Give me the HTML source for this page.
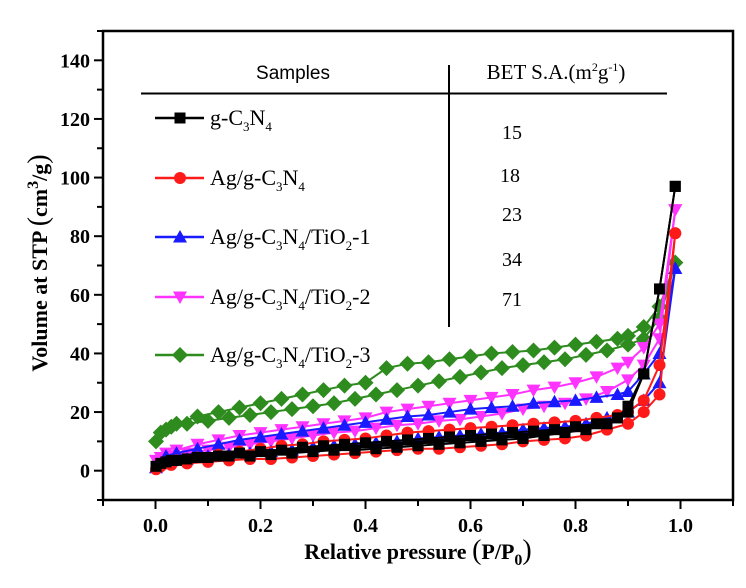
<!DOCTYPE html>
<html><head><meta charset="utf-8"><style>
html,body{margin:0;padding:0;background:#fff;}
svg{display:block;font-family:"Liberation Serif",serif;}
</style></head><body>
<svg id="chart" width="746" height="588" xmlns="http://www.w3.org/2000/svg">
<g id="axes"></g>
<g id="series"></g>
<g id="legend">
  <text x="293" y="79" font-size="19" text-anchor="middle" font-family="Liberation Sans, sans-serif">Samples</text>
  <text x="556" y="79" font-size="21" text-anchor="middle">BET S.A.(m<tspan dy="-8" font-size="12">2</tspan><tspan dy="8">g</tspan><tspan dy="-8" font-size="12">-1</tspan><tspan dy="8">)</tspan></text>
  <line x1="141" y1="93.5" x2="667" y2="93.5" stroke="#000" stroke-width="2"/>
  <line x1="449" y1="65" x2="449" y2="327" stroke="#000" stroke-width="2"/>
  <text x="512" y="139" font-size="20" text-anchor="middle">15</text>
  <text x="510" y="182" font-size="20" text-anchor="middle">18</text>
  <text x="512" y="221" font-size="20" text-anchor="middle">23</text>
  <text x="512" y="266" font-size="20" text-anchor="middle">34</text>
  <text x="512" y="306" font-size="20" text-anchor="middle">71</text>
</g>
</svg>
<script>
const xTicks=[0.0,0.2,0.4,0.6,0.8,1.0];
const xTickLabels=["0.0","0.2","0.4","0.6","0.8","1.0"];
const yTicks=[0,20,40,60,80,100,120,140];
const yTickLabels=["0","20","40","60","80","100","120","140"];
const seriesNames=["g-C3N4","Ag/g-C3N4","Ag/g-C3N4/TiO2-1","Ag/g-C3N4/TiO2-2","Ag/g-C3N4/TiO2-3"];
const adsP=[0.001,0.01,0.03,0.06,0.1,0.14,0.18,0.22,0.26,0.3,0.34,0.38,0.42,0.46,0.5,0.54,0.58,0.62,0.66,0.7,0.74,0.78,0.82,0.86,0.9,0.93,0.96,0.99];
const desP=[0.99,0.96,0.93,0.9,0.88,0.84,0.8,0.76,0.72,0.68,0.64,0.6,0.56,0.52,0.48,0.44,0.4,0.36,0.32,0.28,0.24,0.2,0.16,0.12,0.08,0.04,0.02];
const blackAds=[1.5,2.5,3.5,4,4.5,5,5,5.5,6,6.5,7,7,7.5,8,8.5,9,9.5,10,10.5,11,12,13,14,16,20,33,62,97];
const blackDes=[97,62,33,22,18,16,15,14,13.5,13,12.5,12,11.5,11,10.5,10,9.5,9,8.5,8,7,6.5,6,5,4.5,3.5,3];
const redAds=[0.5,1.5,2,2.5,3,3.5,4,4,4.5,5,5.5,6,6.5,7,7.5,7.5,8,8.5,9,10,10.5,11,12,14,16,20,26,81];
const redDes=[81,36,24,20,19,18,17,16.5,16,15.5,15,14.5,14,13.5,13,12,11,10.5,10,9,8.5,7.5,6.5,5.5,4.5,3.5,2.5];
const blueAds=[1,2.5,3.5,4,5,5.5,6,6.5,7,8,8.5,9,9.5,10,11,11.5,12,12.5,13,14,14.5,15,16,18,20,24,30,69];
const blueDes=[69,40,33,27,26,25,24,23.5,23,22,21.5,21,20,19,18.5,17.5,16.5,15.5,14.5,13.5,12.5,11.5,10.5,9,7.5,6,5];
const magAds=[3.5,4.5,5,6,7,8,9,10,11,12,13,13.5,14.5,15.5,16,17,17.5,18.5,19.5,21,22,23,24.5,27,31,36,45,89];
const magDes=[89,50,42,37,35,32,30,28.5,27.5,26,25,24,23,22,21,20,18,17,16,15,14,13,12,10.5,9,7,6];
const greenAds=[10,13,15,16,17,18,19,20,21,22,23,24.5,26,27.5,29,30.5,32,33.5,35,36,37,38,39.5,41,43,45,52,71];
const greenDes=[71,56,49,46,45,44,43,42,41,40.5,40,39,38,37,36.5,35,30,29,27.5,26,24.5,23,21.5,20,18.5,16,14];

const NS="http://www.w3.org/2000/svg";
const L=103,R=733,T=31,B=500,XMIN=-0.1,XMAX=1.1,YMIN=-10,YMAX=150;
const sx=v=>L+(v-XMIN)/(XMAX-XMIN)*(R-L);
const sy=v=>B-(v-YMIN)/(YMAX-YMIN)*(B-T);
function mk(tag,attrs,parent){const e=document.createElementNS(NS,tag);for(const k in attrs)e.setAttribute(k,attrs[k]);parent.appendChild(e);return e;}
const axes=document.getElementById('axes');
const frame=mk('rect',{x:L,y:T,width:R-L,height:B-T,fill:'none',stroke:'#000','stroke-width':2.5},axes);


for(let v=-0.1;v<=1.101;v+=0.1){
  const major=xTicks.some(t=>Math.abs(t-v)<1e-6);
  const t=mk('line',{x1:sx(v),x2:sx(v),y1:B,y2:B+(major?9:6),stroke:'#000','stroke-width':2},axes);
  
  
}
xTicks.forEach((v,i)=>{
  const t=mk('text',{x:sx(v),y:B+32,'font-size':20,'font-weight':'bold','text-anchor':'middle'},axes);
  t.textContent=xTickLabels[i];
  
  
});
for(let v=-10;v<=150;v+=10){
  const major=yTicks.includes(v);
  const t=mk('line',{x1:L-(major?9:6),x2:L,y1:sy(v),y2:sy(v),stroke:'#000','stroke-width':2},axes);
  
  
}
yTicks.forEach((v,i)=>{
  const t=mk('text',{x:L-13,y:sy(v)+7,'font-size':20,'font-weight':'bold','text-anchor':'end'},axes);
  t.textContent=yTickLabels[i];
  
  
});
const xt=mk('text',{x:418,y:559,'font-size':22,'font-weight':'bold','text-anchor':'middle'},axes);
xt.innerHTML='Relative pressure <tspan font-size="28" font-weight="normal">(</tspan>P/P<tspan dy="6" font-size="16">0</tspan><tspan dy="-6" font-size="28" font-weight="normal">)</tspan>';


const yt=mk('text',{x:0,y:0,'font-size':22,'font-weight':'bold','text-anchor':'middle',transform:'translate(47,263) rotate(-90)'},axes);
yt.innerHTML='Volume at STP <tspan font-size="28" font-weight="normal">(</tspan>cm<tspan dy="-9" font-size="16">3</tspan><tspan dy="9">/g</tspan><tspan font-size="28" font-weight="normal">)</tspan>';



function marker(shape,x,y,color,parent){
  const s=5.5;let e;
  if(shape==='square')e=mk('rect',{x:x-s,y:y-s,width:2*s,height:2*s,fill:color},parent);
  else if(shape==='circle')e=mk('circle',{cx:x,cy:y,r:s+0.5,fill:color},parent);
  else if(shape==='up')e=mk('polygon',{points:`${x},${y-7} ${x-7},${y+5.5} ${x+7},${y+5.5}`,fill:color},parent);
  else if(shape==='down')e=mk('polygon',{points:`${x},${y+7} ${x-7},${y-5.5} ${x+7},${y-5.5}`,fill:color},parent);
  else e=mk('polygon',{points:`${x},${y-8} ${x+8},${y} ${x},${y+8} ${x-8},${y}`,fill:color},parent);
  return e;
}
const sg=document.getElementById('series');
const defs=[
 {name:'green',ads:greenAds,des:greenDes,color:'#2e8b1e',shape:'diamond'},
 {name:'magenta',ads:magAds,des:magDes,color:'#ff33ff',shape:'down'},
 {name:'blue',ads:blueAds,des:blueDes,color:'#1a1aff',shape:'up'},
 {name:'red',ads:redAds,des:redDes,color:'#ff1a1a',shape:'circle'},
 {name:'black',ads:blackAds,des:blackDes,color:'#000',shape:'square'}
];
defs.forEach(d=>{
  const g=mk('g',{},sg);
  
  
  [[adsP,d.ads,'adsorption'],[desP,d.des,'desorption']].forEach(([P,V,kind])=>{
    const pts=P.map((p,i)=>sx(p)+','+sy(V[i])).join(' ');
    const pl=mk('polyline',{points:pts,fill:'none',stroke:d.color,'stroke-width':2},g);
    
    
    P.forEach((p,i)=>{
      const m=marker(d.shape,sx(p),sy(V[i]),d.color,g);
      
      
    });
  });
});
const lg=document.getElementById('legend');
const legendY=[118,178,237,297,355];
const legendDefs=[defs[4],defs[3],defs[2],defs[1],defs[0]];
const sub=n=>`<tspan dy="6" font-size="13">${n}</tspan>`;
const legendHTML=['g-C'+sub(3)+'<tspan dy="-6">N</tspan>'+sub(4),
'Ag/g-C'+sub(3)+'<tspan dy="-6">N</tspan>'+sub(4),
'Ag/g-C'+sub(3)+'<tspan dy="-6">N</tspan>'+sub(4)+'<tspan dy="-6">/TiO</tspan>'+sub(2)+'<tspan dy="-6">-1</tspan>',
'Ag/g-C'+sub(3)+'<tspan dy="-6">N</tspan>'+sub(4)+'<tspan dy="-6">/TiO</tspan>'+sub(2)+'<tspan dy="-6">-2</tspan>',
'Ag/g-C'+sub(3)+'<tspan dy="-6">N</tspan>'+sub(4)+'<tspan dy="-6">/TiO</tspan>'+sub(2)+'<tspan dy="-6">-3</tspan>'];
legendDefs.forEach((d,i)=>{
  const g=mk('g',{},lg);
  
  
  mk('line',{x1:155,x2:204,y1:legendY[i],y2:legendY[i],stroke:d.color,'stroke-width':2.5},g);
  marker(d.shape,180,legendY[i],d.color,g);
  const t=mk('text',{x:210,y:legendY[i]+7,'font-size':22},g);
  t.innerHTML=legendHTML[i];
  
  
});
</script>
</body></html>
